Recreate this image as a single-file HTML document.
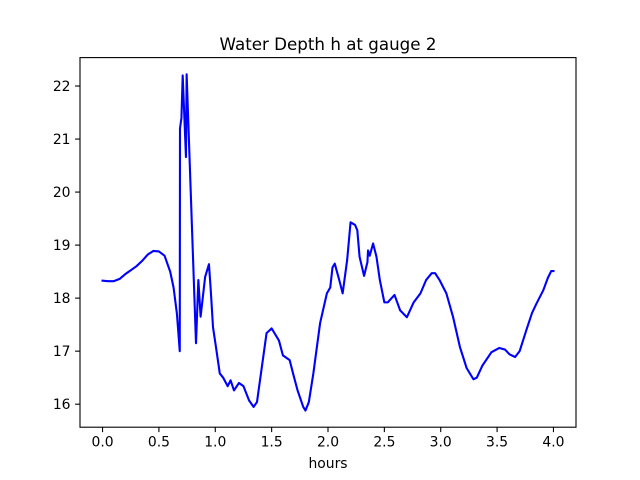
<!DOCTYPE html>
<html><head><meta charset="utf-8">
<style>html,body{margin:0;padding:0;background:#fff}svg{display:block;font-family:"DejaVu Sans","Liberation Sans",sans-serif}</style>
</head><body>
<svg id="chart" width="640" height="480" viewBox="0 0 640 480"></svg>
<script>
const hours=[0,0.05,0.1,0.15,0.2,0.3,0.35,0.4,0.45,0.5,0.55,0.6,0.63,0.66,0.685,0.687,0.7,0.711,0.74,0.746,0.829,0.85,0.87,0.91,0.944,0.96,0.98,1.006,1.04,1.07,1.11,1.136,1.166,1.21,1.25,1.3,1.34,1.37,1.40,1.455,1.5,1.565,1.6,1.66,1.69,1.73,1.78,1.8,1.83,1.87,1.93,1.99,2.02,2.04,2.06,2.10,2.13,2.17,2.20,2.24,2.26,2.28,2.32,2.35,2.355,2.37,2.40,2.43,2.46,2.50,2.53,2.59,2.64,2.70,2.76,2.82,2.87,2.92,2.95,2.99,3.05,3.11,3.17,3.23,3.29,3.32,3.37,3.45,3.52,3.57,3.61,3.66,3.70,3.76,3.81,3.85,3.91,3.95,3.98,4.0];
const depth=[18.33,18.32,18.32,18.36,18.45,18.6,18.7,18.82,18.89,18.88,18.8,18.5,18.2,17.7,17.0,21.2,21.4,22.2,20.66,22.22,17.15,18.34,17.65,18.4,18.64,18.15,17.45,17.08,16.58,16.5,16.34,16.45,16.26,16.4,16.34,16.07,15.95,16.04,16.5,17.34,17.43,17.2,16.92,16.83,16.58,16.26,15.95,15.88,16.04,16.58,17.53,18.09,18.2,18.58,18.65,18.34,18.09,18.72,19.43,19.38,19.28,18.78,18.42,18.68,18.9,18.8,19.03,18.78,18.34,17.92,17.92,18.06,17.77,17.64,17.92,18.09,18.34,18.47,18.47,18.34,18.09,17.64,17.08,16.68,16.47,16.5,16.73,16.98,17.06,17.03,16.94,16.89,17.0,17.4,17.72,17.9,18.15,18.38,18.51,18.51];
const xTicks=[0,0.5,1,1.5,2,2.5,3,3.5,4];
const xTickLabels=["0.0","0.5","1.0","1.5","2.0","2.5","3.0","3.5","4.0"];
const yTicks=[16,17,18,19,20,21,22];
const yTickLabels=["16","17","18","19","20","21","22"];
const L=80,R=576,T=57.6,B=427.2;
const xMin=-0.2,xMax=4.2,yMin=15.566,yMax=22.536;
const sx=v=>L+(v-xMin)/(xMax-xMin)*(R-L);
const sy=v=>B-(v-yMin)/(yMax-yMin)*(B-T);
const svg=document.getElementById('chart');const NS='http://www.w3.org/2000/svg';
function mk(tag,attrs,txt){const e=document.createElementNS(NS,tag);for(const k in attrs)e.setAttribute(k,attrs[k]);if(txt!==undefined)e.textContent=txt;svg.appendChild(e);return e;}
let d='';hours.forEach((h,i)=>{d+=(i?'L':'M')+sx(h).toFixed(2)+','+sy(depth[i]).toFixed(2);});
const line=mk('path',{d:d,fill:'none',stroke:'#0000ff','stroke-width':2.1,'stroke-linejoin':'round','stroke-linecap':'square'});


const frame=mk('rect',{x:L,y:T,width:R-L,height:B-T,fill:'none',stroke:'#000','stroke-width':1.1});


xTicks.forEach((t,i)=>{const x=sx(t);
 const tk=mk('line',{x1:x,x2:x,y1:B,y2:B+4.9,stroke:'#000','stroke-width':1.1});
 
 
 const lb=mk('text',{x:x,y:B+19.5,'text-anchor':'middle','font-size':13.9},xTickLabels[i]);
 
 });
yTicks.forEach((t,i)=>{const y=sy(t);
 const tk=mk('line',{x1:L-4.9,x2:L,y1:y,y2:y,stroke:'#000','stroke-width':1.1});
 
 
 const lb=mk('text',{x:L-9.5,y:y+5,'text-anchor':'end','font-size':13.9},yTickLabels[i]);
 
 });
const ti=mk('text',{x:(L+R)/2,y:50,'text-anchor':'middle','font-size':16.7},'Water Depth h at gauge 2');


const xl=mk('text',{x:(L+R)/2,y:468,'text-anchor':'middle','font-size':13.9},'hours');


</script>
</body></html>
